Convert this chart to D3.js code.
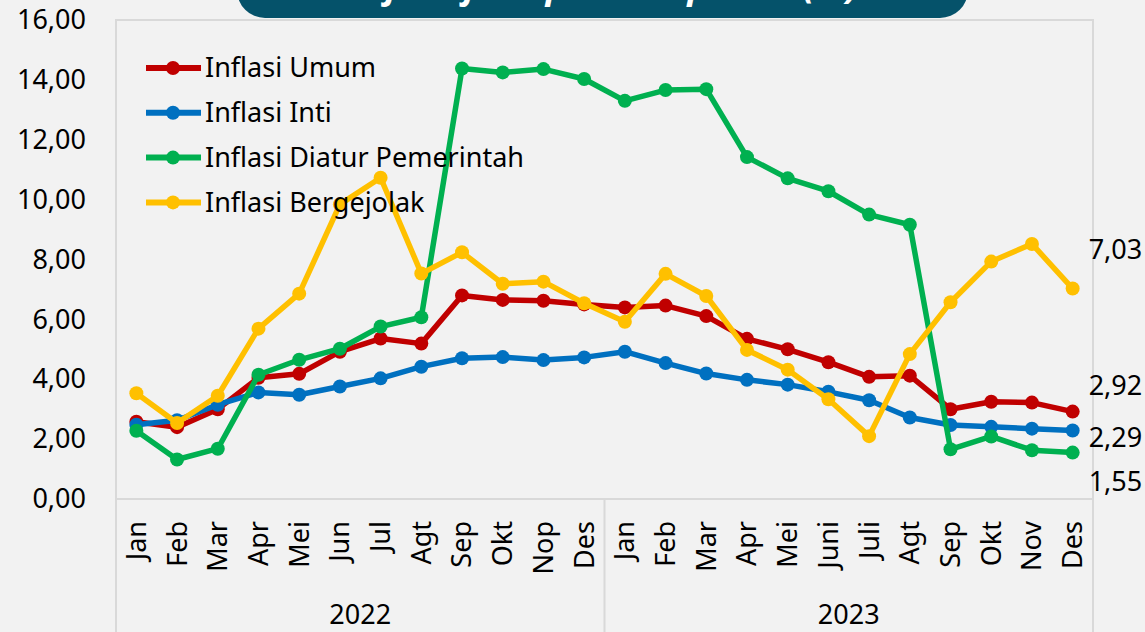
<!DOCTYPE html>
<html>

<head>
	<meta charset="UTF-8">
	<title>Laju Inflasi per Komponen</title>
	<script src="https://cdn.jsdelivr.net/npm/d3@7"></script>
	<style>
		body {
			margin: 0;
			background: #f2f2f2;
		}

		svg text {
			font-family: "Noto Sans", sans-serif;
			fill: #000;
		}

		.frame {
			stroke: #d9d9d9;
			stroke-width: 2px;
			fill: none;
		}

		.series {
			fill: none;
			stroke-width: 5.5px;
			stroke-linejoin: round;
		}
	</style>
</head>

<body>
	<svg id="chart" width="1145" height="632"></svg>

	<script>
		const months = ['Jan', 'Feb', 'Mar', 'Apr', 'Mei', 'Jun', 'Jul', 'Agt', 'Sep', 'Okt', 'Nop', 'Des',
			'Jan', 'Feb', 'Mar', 'Apr', 'Mei', 'Juni', 'Juli', 'Agt', 'Sep', 'Okt', 'Nov', 'Des'];
		const years = ['2022', '2023'];
		const seriesNames = ['Inflasi Umum', 'Inflasi Inti', 'Inflasi Diatur Pemerintah', 'Inflasi Bergejolak'];
		const seriesColors = ['#c00000', '#0070c0', '#00b050', '#ffc000'];

		const umum = [2.58, 2.40, 3.00, 4.05, 4.18, 4.92, 5.36, 5.19, 6.80, 6.65, 6.62, 6.50,
			6.40, 6.46, 6.11, 5.35, 5.00, 4.57, 4.08, 4.12, 3.00, 3.25, 3.22, 2.92];
		const inti = [2.48, 2.63, 3.15, 3.56, 3.48, 3.76, 4.03, 4.42, 4.70, 4.74, 4.64, 4.73,
			4.92, 4.54, 4.19, 3.98, 3.82, 3.58, 3.30, 2.72, 2.47, 2.41, 2.35, 2.29];
		const diatur = [2.28, 1.32, 1.68, 4.15, 4.65, 5.02, 5.76, 6.07, 14.38, 14.25, 14.36, 14.03,
			13.30, 13.66, 13.69, 11.42, 10.71, 10.28, 9.50, 9.16, 1.66, 2.09, 1.63, 1.55];
		const bergejolak = [3.53, 2.54, 3.45, 5.69, 6.86, 9.84, 10.73, 7.53, 8.24, 7.19, 7.26, 6.54,
			5.92, 7.52, 6.78, 4.98, 4.32, 3.33, 2.10, 4.84, 6.57, 7.93, 8.52, 7.03];
		const yTicks = [0, 2, 4, 6, 8, 10, 12, 14, 16];

		const allSeries = [umum, inti, diatur, bergejolak];
		// vertical nudges of the end labels, so they do not collide
		const endLabelShift = [-26, 7, 29, -39];

		const plotL = 116, plotR = 1093, plotT = 20, plotB = 499;
		const svg = d3.select('#chart');
		const fmt = d3.formatLocale({ decimal: ',', thousands: '.', grouping: [3], currency: ['', ''] }).format('.2f');

		const x = d3.scaleBand().domain(d3.range(months.length)).range([plotL, plotR]);
		const y = d3.scaleLinear().domain([0, 16]).range([plotB, plotT]);
		const cx = i => x(i) + x.bandwidth() / 2;

		// frame and category box
		svg.append('path').attr('class', 'frame')
			.attr('d', `M${plotL},632 V${plotT} H${plotR} V632 M${plotL},${plotB} H${plotR}`);
		svg.append('line').attr('class', 'frame')
			.attr('x1', x(12)).attr('x2', x(12)).attr('y1', plotB).attr('y2', 632);

		// y axis
		const yAxis = svg.append('g')
			.attr('transform', `translate(${plotL},0)`)
			.call(d3.axisLeft(y).tickValues(yTicks).tickFormat(fmt).tickSize(0).tickPadding(30));
		yAxis.select('.domain').remove();
		yAxis.selectAll('text').style('font-size', '27px').style('font-family', '"Noto Sans", sans-serif').attr('fill', '#000');

		// x axis, months rotated
		const xAxis = svg.append('g')
			.attr('transform', `translate(0,${plotB})`)
			.call(d3.axisBottom(x).tickFormat(i => months[i]).tickSize(0));
		xAxis.select('.domain').remove();
		xAxis.selectAll('text')
			.style('font-size', '27px').style('font-family', '"Noto Sans", sans-serif').attr('fill', '#000')
			.attr('text-anchor', 'end')
			.attr('transform', 'rotate(-90)')
			.attr('x', -22).attr('y', 0).attr('dy', '0.35em');

		svg.selectAll('.year').data(years).enter().append('text')
			.attr('class', 'year')
			.attr('x', (d, i) => (x(i * 12) + x(i * 12 + 11) + x.bandwidth()) / 2)
			.attr('y', 624)
			.attr('text-anchor', 'middle')
			.style('font-size', '27px')
			.text(d => d);

		// lines
		const line = d3.line().x((d, i) => cx(i)).y(d => y(d));
		allSeries.forEach((s, k) => {
			const g = svg.append('g');
			g.append('path').attr('class', 'series').attr('stroke', seriesColors[k]).attr('d', line(s));
			g.selectAll('circle').data(s).enter().append('circle')
				.attr('cx', (d, i) => cx(i)).attr('cy', d => y(d)).attr('r', 7)
				.attr('fill', seriesColors[k]);
		});

		// end labels
		allSeries.forEach((s, k) => {
			const last = s.length - 1;
			svg.append('text')
				.attr('x', cx(last) + 16)
				.attr('y', y(s[last]) + endLabelShift[k])
				.attr('dy', '0.35em')
				.style('font-size', '27px')
				.text(fmt(s[last]));
		});

		// legend
		const legend = svg.append('g').attr('transform', 'translate(146,68)');
		const item = legend.selectAll('g').data(seriesNames).enter().append('g')
			.attr('transform', (d, i) => `translate(0,${i * 44.8})`);
		item.append('line').attr('x1', 0).attr('x2', 55)
			.attr('stroke', (d, i) => seriesColors[i]).attr('stroke-width', 6);
		item.append('circle').attr('cx', 27).attr('r', 7).attr('fill', (d, i) => seriesColors[i]);
		item.append('text').attr('x', 59).attr('dy', '0.35em').style('font-size', '27px').text(d => d);

		// title banner, mostly cut off at the top
		svg.append('rect').attr('x', 237).attr('y', -60).attr('width', 731).attr('height', 78)
			.attr('rx', 28).attr('fill', '#05526a');
		svg.append('text')
			.attr('x', 602).attr('y', -2)
			.attr('text-anchor', 'middle')
			.style('font-size', '36px').style('font-weight', 'bold').style('font-style', 'italic')
			.style('fill', '#fff')
			.text('Laju Inflasi per Komponen (%)');
	</script>
</body>

</html>
